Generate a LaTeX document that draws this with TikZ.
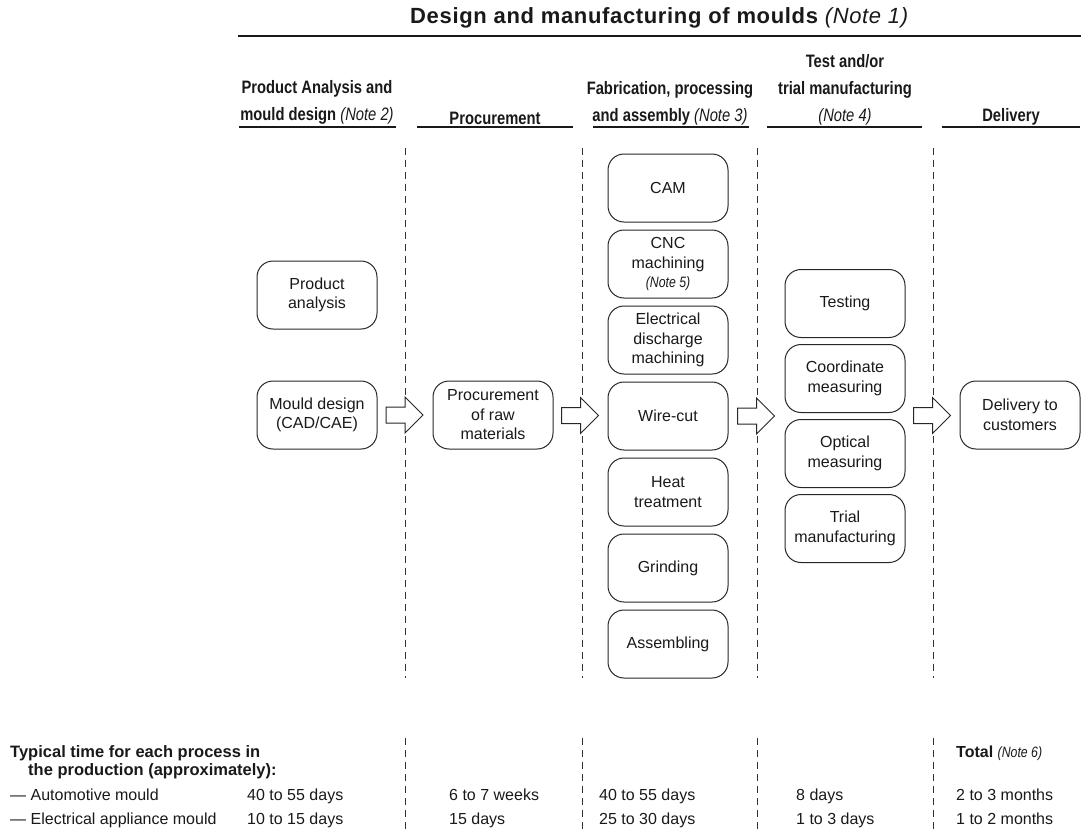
\documentclass[tikz,border=0pt]{standalone}
\usepackage{fontspec}
\setmainfont{Liberation Sans}
\newfontfamily\narrowfont[FakeStretch=0.82]{Liberation Sans}
\newfontfamily\titlefont[LetterSpace=3]{Liberation Sans}
\usetikzlibrary{calc}

\newcommand{\note}[1]{{\narrowfont\mdseries\itshape (Note #1)}}
\newcommand{\flowarrow}[2]{%
  \draw[blockarrow] ($(#1)!.5!(#2)$) +(-19,-8) -- +(0,-8) -- +(0,-18) -- +(18,0)
    -- +(0,18) -- +(0,8) -- +(-19,8) -- cycle;}

\begin{document}
\begin{tikzpicture}[x=1pt, y=-1pt,
    stage/.style={draw=black!85, line width=1pt, rounded corners=16pt,
      minimum width=120pt, minimum height=68pt, align=center, inner sep=2pt,
      text=black!90, font=\fontsize{16}{19.5}\selectfont},
    colhead/.style={anchor=south, align=center, inner sep=0pt, text=black!90,
      font=\narrowfont\bfseries\fontsize{18}{27}\selectfont},
    divider/.style={black!80, line width=0.8pt, dash pattern=on 7pt off 5pt},
    headrule/.style={black!90, line width=1.6pt},
    blockarrow/.style={draw=black!85, line width=1pt, fill=white},
    cell/.style={anchor=base west, inner sep=0pt, text=black!90,
      font=\fontsize{16}{19}\selectfont}]
    \useasboundingbox (0,0) rectangle (1081,831);

    % title
    \node[anchor=base west, inner sep=0pt, text=black!90] (title) at (410,23)
      {\titlefont\bfseries\fontsize{22}{26}\selectfont Design and manufacturing of moulds\
       {\mdseries\itshape (Note 1)}};
    \draw[headrule] (238,36) -- (1081,36);

    % column heads
    \node[colhead] (h1) at (317,125) {Product Analysis and\\mould design \note{2}};
    \node[colhead] (h2) at (495,125) {Procurement};
    \node[colhead] (h3) at (670,125) {Fabrication, processing\\and assembly \note{3}};
    \node[colhead] (h4) at (845,125) {Test and/or\\trial manufacturing\\\note{4}};
    \node[colhead] (h5) at (1011,125) {Delivery};
    \draw[headrule] (239,127) -- (396,127);
    \draw[headrule] (417,127) -- (573,127);
    \draw[headrule] (593,127) -- (749,127);
    \draw[headrule] (767,127) -- (922,127);
    \draw[headrule] (942,127) -- (1080,127);

    % dividers
    \foreach \x in {405,582,757,933}{
      \draw[divider] (\x,148) -- (\x,678);
      \draw[divider] (\x,738) -- (\x,831);
    }

    % stages
    \node[stage] (prodan) at (317,295) {Product\\analysis};
    \node[stage] (mould) at (317,415) {Mould design\\(CAD/CAE)};
    \node[stage] (proc) at (493,415) {Procurement\\of raw\\materials};
    \node[stage] (cam) at (668,188) {CAM};
    \node[stage] (cnc) at (668,264) {CNC\\machining\\{\fontsize{15}{16}\selectfont\note{5}}};
    \node[stage] (edm) at (668,340) {Electrical\\discharge\\machining};
    \node[stage] (wire) at (668,416) {Wire-cut};
    \node[stage] (heat) at (668,492) {Heat\\treatment};
    \node[stage] (grind) at (668,568) {Grinding};
    \node[stage] (assy) at (668,644) {Assembling};
    \node[stage] (test) at (845,303.5) {Testing};
    \node[stage] (cmm) at (845,378.5) {Coordinate\\measuring};
    \node[stage] (optic) at (845,453.5) {Optical\\measuring};
    \node[stage] (trial) at (845,528.5) {Trial\\manufacturing};
    \node[stage] (deliv) at (1020,415) {Delivery to\\customers};
    \coordinate (testin) at ($(cmm.south west)!.5!(optic.north west)$);
    \coordinate (testout) at ($(cmm.south east)!.5!(optic.north east)$);

    % arrows
    \flowarrow{mould.east}{proc.west}
    \flowarrow{proc.east}{wire.west}
    \flowarrow{wire.east}{testin}
    \flowarrow{testout}{deliv.west}

    % times
    \node[cell, font=\bfseries\fontsize{16.5}{19}\selectfont] (typ1) at (10,757)
      {Typical time for each process in};
    \node[cell, font=\bfseries\fontsize{16.5}{19}\selectfont] (typ2) at (28,775)
      {the production (approximately):};
    \node[cell] (tot) at (956,757) {\bfseries Total {\fontsize{15}{16}\selectfont\note{6}}};
    \node[cell] (auto) at (10,800) {--- Automotive mould};
    \node[cell] (elec) at (10,824) {--- Electrical appliance mould};
    \node[cell] (auto1) at (247,800) {40 to 55 days};
    \node[cell] (elec1) at (247,824) {10 to 15 days};
    \node[cell] (auto2) at (449,800) {6 to 7 weeks};
    \node[cell] (elec2) at (449,824) {15 days};
    \node[cell] (auto3) at (599,800) {40 to 55 days};
    \node[cell] (elec3) at (599,824) {25 to 30 days};
    \node[cell] (auto4) at (796,800) {8 days};
    \node[cell] (elec4) at (796,824) {1 to 3 days};
    \node[cell] (auto5) at (956,800) {2 to 3 months};
    \node[cell] (elec5) at (956,824) {1 to 2 months};
\end{tikzpicture}
\end{document}
